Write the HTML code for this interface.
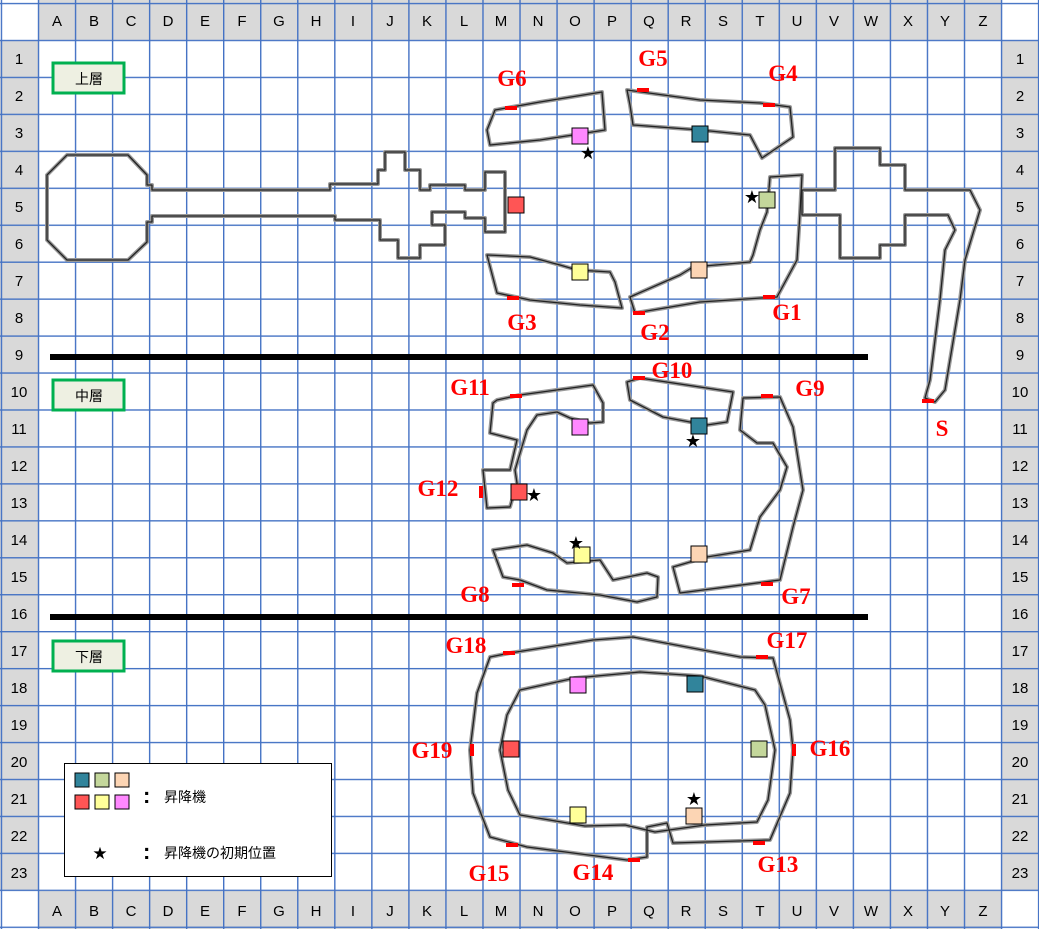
<!DOCTYPE html>
<html><head><meta charset="utf-8"><style>
body{margin:0;background:#fff}
svg{display:block}
.h{font-family:"Liberation Sans",sans-serif;font-size:15px;fill:#000;text-anchor:middle}
.g{font-family:"Liberation Serif",serif;font-weight:bold;font-size:23px;fill:#f00;text-anchor:middle}
.m{fill:none;stroke:#999;stroke-width:4;stroke-linejoin:round}
.n{fill:none;stroke:#222;stroke-width:1.3;stroke-linejoin:round}
.j{font-family:"Liberation Sans","Noto Sans CJK JP",sans-serif;font-size:14px;fill:#000}
</style></head><body>
<svg width="1039" height="929" viewBox="0 0 1039 929" xmlns="http://www.w3.org/2000/svg">
<defs>
<pattern id="gp" x="37.8" y="39.8" width="37.04" height="36.95" patternUnits="userSpaceOnUse">
<path d="M0.7 0V36.95M0 0.7H37.04" stroke="#4472c4" stroke-width="1.4" fill="none"/></pattern>
<g id="shapes">
<path d="M67 155H128L147 175V185H152V190H330V184H378V170H385V152H405V170H420V190H430V185H465V190H485V172H505V232H485V218H465V212H432V225H445V245H420V258H398V240H380V220H335V216H152V222H147V242L128 260H67L47 240V175Z"/>
<path d="M495 110L540 102L602 92L605 130L573 135L540 140L490 145L487 130Z"/>
<path d="M627 90L700 100L760 103L790 107L793 137L762 158L750 135L700 130L633 125L630 105Z"/>
<path d="M487 255L530 257L560 265L577 270L610 272L615 282L622 308L580 305L530 300L497 293Z"/>
<path d="M630 297L680 275L693 267L750 262L753 255L760 230L767 212L770 177L802 175L800 213L797 260L777 297L700 302L635 313Z"/>
<path d="M802 190H835V148H880V165H905V190H970L980 210L965 260L960 300L945 390L935 402L925 398L930 380L940 300L945 250L955 230L948 215H905V245H880V258H840V215H802Z"/>
<path d="M497 400L520 395L593 385L603 403L603 422L590 423L570 418L557 412L537 415L527 430L515 470L517 483L510 507L487 508L483 470L510 470L517 440L490 433L493 403Z"/>
<path d="M627 382L640 378L733 392L727 422L707 425L690 422L663 417L630 400Z"/>
<path d="M743 398L780 397L793 427L803 490L793 527L780 580L680 593L673 567L707 557L750 550L760 517L780 490L787 467L773 443L757 443L740 430Z"/>
<path d="M493 550L527 545L553 553L567 563L600 560L613 580L647 573L658 577L657 597L637 602L600 595L547 590L520 580L503 577Z"/>
<path d="M490 657L510 653L593 640L633 637L740 657L773 658L790 720L793 750L790 793L770 840L673 843L667 823L647 827L647 857L627 860L527 847L490 837L473 793L470 750L477 693Z"/>
<path d="M520 690L575 678L640 672L700 676L755 690L765 705L775 750L768 800L757 822L705 825L655 832L625 825L585 826L520 815L508 790L500 750L507 715Z"/>
</g>
</defs>
<rect x="0" y="0" width="1039" height="40" fill="#d9d9d9"/>
<rect x="0" y="891" width="1039" height="38" fill="#d9d9d9"/>
<rect x="0" y="40" width="38.5" height="851" fill="#d9d9d9"/>
<rect x="1001" y="40" width="38" height="851" fill="#d9d9d9"/>
<rect x="0" y="0" width="38.5" height="40.5" fill="#fff"/>
<rect x="1001" y="0" width="38" height="40.5" fill="#fff"/>
<rect x="0" y="891" width="38.5" height="38" fill="#fff"/>
<rect x="1001" y="891" width="38" height="38" fill="#fff"/>
<rect x="0" y="0" width="1039" height="929" fill="url(#gp)"/>
<g class="h">
<text x="57" y="26">A</text><text x="94" y="26">B</text><text x="131" y="26">C</text><text x="168" y="26">D</text><text x="205" y="26">E</text><text x="242" y="26">F</text><text x="279" y="26">G</text><text x="316" y="26">H</text><text x="353" y="26">I</text><text x="390" y="26">J</text><text x="427" y="26">K</text><text x="464" y="26">L</text><text x="501" y="26">M</text><text x="538" y="26">N</text><text x="575" y="26">O</text><text x="612" y="26">P</text><text x="649" y="26">Q</text><text x="686" y="26">R</text><text x="723" y="26">S</text><text x="760" y="26">T</text><text x="797" y="26">U</text><text x="834" y="26">V</text><text x="871" y="26">W</text><text x="908" y="26">X</text><text x="945" y="26">Y</text><text x="983" y="26">Z</text>
<text x="57" y="916">A</text><text x="94" y="916">B</text><text x="131" y="916">C</text><text x="168" y="916">D</text><text x="205" y="916">E</text><text x="242" y="916">F</text><text x="279" y="916">G</text><text x="316" y="916">H</text><text x="353" y="916">I</text><text x="390" y="916">J</text><text x="427" y="916">K</text><text x="464" y="916">L</text><text x="501" y="916">M</text><text x="538" y="916">N</text><text x="575" y="916">O</text><text x="612" y="916">P</text><text x="649" y="916">Q</text><text x="686" y="916">R</text><text x="723" y="916">S</text><text x="760" y="916">T</text><text x="797" y="916">U</text><text x="834" y="916">V</text><text x="871" y="916">W</text><text x="908" y="916">X</text><text x="945" y="916">Y</text><text x="983" y="916">Z</text>
</g>
<g class="h">
<text x="19" y="64">1</text><text x="19" y="101">2</text><text x="19" y="138">3</text><text x="19" y="175">4</text><text x="19" y="212">5</text><text x="19" y="249">6</text><text x="19" y="286">7</text><text x="19" y="323">8</text><text x="19" y="360">9</text><text x="19" y="397">10</text><text x="19" y="434">11</text><text x="19" y="471">12</text><text x="19" y="508">13</text><text x="19" y="545">14</text><text x="19" y="582">15</text><text x="19" y="619">16</text><text x="19" y="656">17</text><text x="19" y="693">18</text><text x="19" y="730">19</text><text x="19" y="767">20</text><text x="19" y="804">21</text><text x="19" y="841">22</text><text x="19" y="878">23</text>
<text x="1020" y="64">1</text><text x="1020" y="101">2</text><text x="1020" y="138">3</text><text x="1020" y="175">4</text><text x="1020" y="212">5</text><text x="1020" y="249">6</text><text x="1020" y="286">7</text><text x="1020" y="323">8</text><text x="1020" y="360">9</text><text x="1020" y="397">10</text><text x="1020" y="434">11</text><text x="1020" y="471">12</text><text x="1020" y="508">13</text><text x="1020" y="545">14</text><text x="1020" y="582">15</text><text x="1020" y="619">16</text><text x="1020" y="656">17</text><text x="1020" y="693">18</text><text x="1020" y="730">19</text><text x="1020" y="767">20</text><text x="1020" y="804">21</text><text x="1020" y="841">22</text><text x="1020" y="878">23</text>
</g>
<use href="#shapes" class="m"/>
<use href="#shapes" class="n"/>
<rect x="50" y="354" width="818" height="6" fill="#000"/>
<rect x="50" y="614" width="818" height="6" fill="#000"/>
<g stroke="#00b050" stroke-width="3" fill="#eef0e2">
<rect x="53" y="63" width="71" height="30"/><rect x="53" y="380" width="71" height="30"/><rect x="53" y="641" width="71" height="30"/></g>
<g class="j" text-anchor="middle"><text x="89" y="84">上層</text><text x="89" y="401">中層</text><text x="89" y="662">下層</text></g>
<g fill="#f00">
<rect x="505" y="106" width="12" height="4"/><rect x="637" y="88" width="12" height="4"/><rect x="763" y="103" width="12" height="4"/><rect x="507" y="296" width="12" height="4"/><rect x="633" y="311" width="12" height="4"/><rect x="763" y="295" width="12" height="4"/>
<rect x="510" y="394" width="12" height="4"/><rect x="633" y="376" width="12" height="4"/><rect x="761" y="394" width="12" height="4"/><rect x="479" y="486" width="4" height="12"/><rect x="512" y="583" width="12" height="4"/><rect x="761" y="582" width="12" height="4"/>
<rect x="503" y="651" width="12" height="4"/><rect x="756" y="655" width="12" height="4"/><rect x="470" y="744" width="4" height="12"/><rect x="792" y="744" width="4" height="12"/><rect x="506" y="843" width="12" height="4"/><rect x="628" y="858" width="12" height="4"/><rect x="753" y="841" width="12" height="4"/><rect x="922" y="399" width="12" height="4"/>
</g>
<g class="g">
<text x="512" y="86">G6</text><text x="653" y="66">G5</text><text x="783" y="81">G4</text><text x="522" y="330">G3</text><text x="655" y="340">G2</text><text x="787" y="320">G1</text>
<text x="470" y="395">G11</text><text x="672" y="378">G10</text><text x="810" y="396">G9</text><text x="942" y="436">S</text><text x="438" y="496">G12</text><text x="475" y="602">G8</text><text x="796" y="604">G7</text>
<text x="466" y="653">G18</text><text x="787" y="648">G17</text><text x="432" y="758">G19</text><text x="830" y="756">G16</text><text x="489" y="881">G15</text><text x="593" y="880">G14</text><text x="778" y="872">G13</text>
</g>
<g stroke="#000" stroke-width="1">
<rect x="572" y="128" width="16" height="16" fill="#ff88ff"/><rect x="508" y="197" width="16" height="16" fill="#f55"/><rect x="692" y="126" width="16" height="16" fill="#31849b"/><rect x="759" y="192" width="16" height="16" fill="#c4d79b"/><rect x="572" y="264" width="16" height="16" fill="#ffff99"/><rect x="691" y="262" width="16" height="16" fill="#fcd5b4"/>
<rect x="691" y="418" width="16" height="16" fill="#31849b"/><rect x="572" y="419" width="16" height="16" fill="#ff88ff"/><rect x="511" y="484" width="16" height="16" fill="#f55"/><rect x="574" y="547" width="16" height="16" fill="#ffff99"/><rect x="691" y="546" width="16" height="16" fill="#fcd5b4"/>
<rect x="570" y="677" width="16" height="16" fill="#ff88ff"/><rect x="687" y="676" width="16" height="16" fill="#31849b"/><rect x="503" y="741" width="16" height="16" fill="#f55"/><rect x="751" y="741" width="16" height="16" fill="#c4d79b"/><rect x="570" y="807" width="16" height="16" fill="#ffff99"/><rect x="686" y="808" width="16" height="16" fill="#fcd5b4"/>
</g>
<g font-family="DejaVu Sans" font-size="18" text-anchor="middle">
<text x="588" y="159">★</text><text x="752" y="203">★</text><text x="693" y="447">★</text><text x="534" y="501">★</text><text x="576" y="549">★</text><text x="694" y="805">★</text>
</g>
<rect x="64.5" y="763.5" width="267" height="113" fill="#fff" stroke="#000" stroke-width="1"/>
<g stroke="#000" stroke-width="1">
<rect x="75" y="773" width="14" height="14" fill="#31849b"/><rect x="95" y="773" width="14" height="14" fill="#c4d79b"/><rect x="115" y="773" width="14" height="14" fill="#fcd5b4"/>
<rect x="75" y="795" width="14" height="14" fill="#f55"/><rect x="95" y="795" width="14" height="14" fill="#ffff99"/><rect x="115" y="795" width="14" height="14" fill="#ff88ff"/>
</g>
<text x="100" y="859" font-family="DejaVu Sans" font-size="17" text-anchor="middle">★</text>
<text x="143" y="803" font-family="Liberation Sans" font-size="22" font-weight="bold">:</text>
<text x="143" y="859" font-family="Liberation Sans" font-size="22" font-weight="bold">:</text>
<text class="j" x="164" y="802" font-size="15">昇降機</text>
<text class="j" x="164" y="858" font-size="15">昇降機の初期位置</text>
</svg>
</body></html>
